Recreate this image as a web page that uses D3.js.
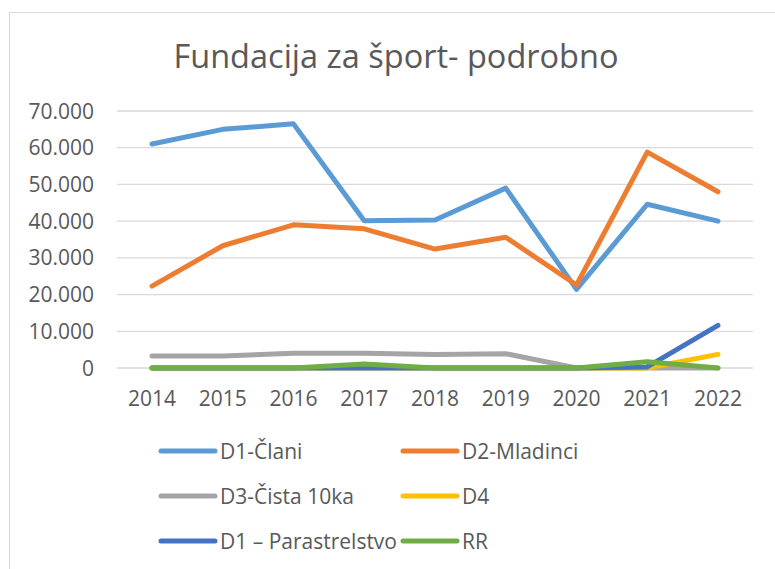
<!DOCTYPE html>
<html>
<head>
<meta charset="utf-8">
<script src="https://cdn.jsdelivr.net/npm/d3@7"></script>
<style>
  body { margin: 0; background: #fff; }
  text { font-family: "Open Sans", "Noto Sans", sans-serif; fill: #595959; }
</style>
</head>
<body>
<script>
const width  = 775
const height = 569

const years = ["2014", "2015", "2016", "2017", "2018", "2019", "2020", "2021", "2022"];
const yTicks = [0, 10000, 20000, 30000, 40000, 50000, 60000, 70000];

const seriesNames  = ["D1-Člani", "D2-Mladinci", "D3-Čista 10ka", "D4", "D1 – Parastrelstvo", "RR"];
const seriesColors = ["#5b9bd5", "#ed7d31", "#a5a5a5", "#ffc000", "#4472c4", "#70ad47"];

const d1Clani    = [61000, 65000, 66500, 40100, 40300, 49000, 21400, 44600, 40000];
const d2Mladinci = [22300, 33300, 39000, 37900, 32400, 35600, 22600, 58800, 48000];
const d3Cista    = [3300, 3300, 4000, 4000, 3700, 3900, 0, 0, 0];
const d4         = [0, 0, 0, 0, 0, 0, 0, 0, 3700];
const d1Para     = [0, 0, 0, 0, 0, 0, 0, 300, 11600];
const rr         = [0, 0, 0, 1100, 0, 0, 0, 1700, 0];

const allSeries = [d1Clani, d2Mladinci, d3Cista, d4, d1Para, rr];

const svg = d3.select("body").append("svg")
	.attr("width", width)
	.attr("height", height);

// chart border
svg.append("rect")
	.attr("x", 9.5)
	.attr("y", 12.5)
	.attr("width", width + 10)
	.attr("height", height + 10)
	.attr("fill", "white")
	.attr("stroke", "#d9d9d9");

svg.append("text")
	.attr("x", 396)
	.attr("y", 68)
	.attr("text-anchor", "middle")
	.style("font-size", "32.5px")
	.text("Fundacija za šport- podrobno");

const x = d3.scalePoint()
	.domain(years)
	.range([152, 718]);

const y = d3.scaleLinear()
	.domain([0, 70000])
	.range([368, 111]);

const fmt = d => d === 0 ? "0" : d3.format(",")(d).replace(/,/g, ".");

// gridlines
svg.append("g")
	.selectAll("line")
	.data(yTicks)
	.join("line")
	  .attr("x1", 117)
	  .attr("x2", 753)
	  .attr("y1", d => y(d))
	  .attr("y2", d => y(d))
	  .attr("stroke", "#d9d9d9")
	  .attr("stroke-width", 1.3);

// y labels
svg.append("g")
	.selectAll("text")
	.data(yTicks)
	.join("text")
	  .attr("x", 94)
	  .attr("y", d => y(d))
	  .attr("dy", "0.36em")
	  .attr("text-anchor", "end")
	  .style("font-size", "21px")
	  .text(fmt);

// x labels
svg.append("g")
	.selectAll("text")
	.data(years)
	.join("text")
	  .attr("x", d => x(d))
	  .attr("y", 406)
	  .attr("text-anchor", "middle")
	  .style("font-size", "21px")
	  .text(d => d);

const line = d3.line()
	.x((d, i) => x(years[i]))
	.y(d => y(d));

//draw lines
svg.append("g")
	.attr("fill", "none")
	.attr("stroke-width", 5)
	.attr("stroke-linecap", "round")
	.attr("stroke-linejoin", "round")
.selectAll("path")
.data(allSeries)
.join("path")
	.attr("stroke", (d, i) => seriesColors[i])
	.attr("d", d => line(d));

// legend
const legend = svg.append("g")
	.selectAll("g")
	.data(seriesNames)
	.join("g")
	  .attr("transform", (d, i) => `translate(${i % 2 ? 403 : 161},${451 + Math.floor(i / 2) * 45})`);

legend.append("line")
	.attr("x1", 0)
	.attr("x2", 54)
	.attr("stroke", (d, i) => seriesColors[i])
	.attr("stroke-width", 5)
	.attr("stroke-linecap", "round");

legend.append("text")
	.attr("x", 59)
	.attr("dy", "0.36em")
	.style("font-size", "21px")
	.text(d => d);
</script>
</body>
</html>
